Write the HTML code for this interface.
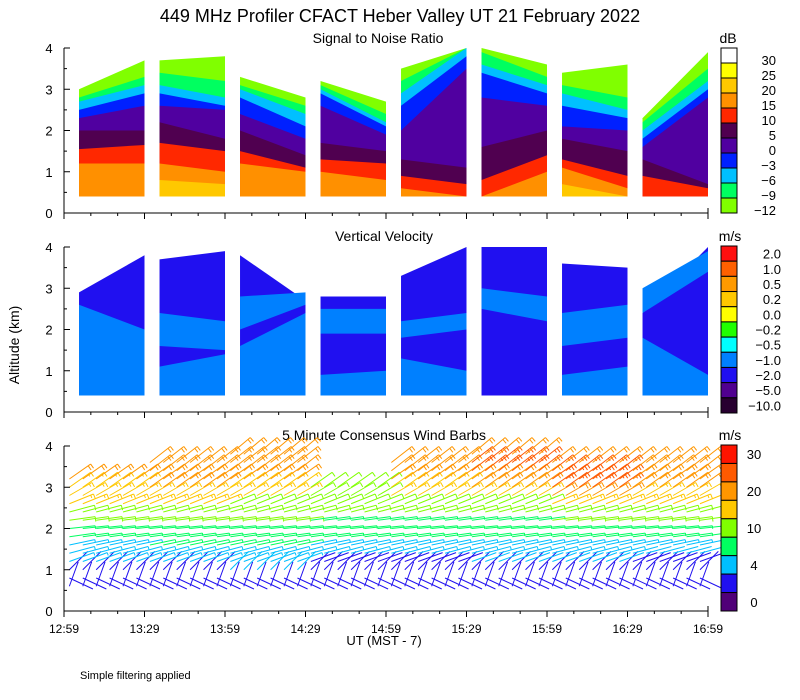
<!DOCTYPE html>
<html><head><meta charset="utf-8">
<style>
html,body{margin:0;padding:0;background:#fff;}
svg{display:block;font-family:"Liberation Sans",sans-serif;}
</style></head>
<body>
<svg id="chart" width="800" height="700" viewBox="0 0 800 700" xmlns="http://www.w3.org/2000/svg">
<text x="400" y="22" font-size="18" text-anchor="middle" fill="#000">449 MHz Profiler CFACT Heber Valley UT 21 February 2022</text>
<text x="378" y="43" font-size="14" text-anchor="middle">Signal to Noise Ratio</text>
<text x="384" y="241" font-size="14" text-anchor="middle">Vertical Velocity</text>
<text x="384" y="440" font-size="14" text-anchor="middle">5 Minute Consensus Wind Barbs</text>
<text x="728" y="43" font-size="14" text-anchor="middle">dB</text>
<text x="730" y="241" font-size="14" text-anchor="middle">m/s</text>
<text x="730" y="440" font-size="14" text-anchor="middle">m/s</text>
<text transform="translate(19,345) rotate(-90)" font-size="14" text-anchor="middle">Altitude (km)</text>
<text x="384" y="645" font-size="13" text-anchor="middle">UT  (MST - 7)</text>
<text x="80" y="679" font-size="11">Simple filtering applied</text>
<g id="g"></g>
</svg>
<script>
// ---- data ----
const timeLabels = ["12:59","13:29","13:59","14:29","14:59","15:29","15:59","16:29","16:59"];
const snrLabels = ["30","25","20","15","10","5","0","\u22123","\u22126","\u22129","\u221212"];
const vvLabels = ["2.0","1.0","0.5","0.2","0.0","\u22120.2","\u22120.5","\u22121.0","\u22122.0","\u22125.0","\u221210.0"];
const windLabels = ["30","","20","","10","","4","","0"];
const blockStarts = [5.6,35.6,65.6,95.6,125.6,155.6,185.6,215.6]; // minutes after 12:59
const blockEnds = [30,60,90,120,150,180,210,240];
// SNR bands per block: [colorIndex, topAtStart km, topAtEnd km], bottom to top
const snrB1 = [[3,1.2,1.2],[4,1.55,1.65],[5,2.0,2.0],[6,2.3,2.6],[7,2.5,2.9],[8,2.7,3.1],[9,2.8,3.3],[10,3.0,3.7]];
const snrB2 = [[2,0.8,0.7],[3,1.2,1.0],[4,1.7,1.5],[5,2.2,1.8],[6,2.6,2.5],[7,2.9,2.6],[8,3.1,2.8],[9,3.4,3.2],[10,3.7,3.8]];
const snrB3 = [[3,1.2,1.0],[4,1.5,1.1],[5,2.0,1.4],[6,2.4,1.8],[7,2.8,2.1],[8,3.0,2.4],[9,3.1,2.6],[10,3.3,2.8]];
const snrB4 = [[3,1.0,0.8],[4,1.3,1.2],[5,1.7,1.5],[6,2.6,1.9],[7,2.9,2.1],[8,3.0,2.2],[9,3.1,2.4],[10,3.2,2.7]];
const snrB5 = [[3,0.6,0.4],[4,0.9,0.7],[5,1.3,1.1],[6,2.0,3.5],[7,2.6,3.8],[8,2.9,4.0],[9,3.2,4.0],[10,3.5,4.0]];
const snrB6 = [[3,0.4,1.0],[4,0.8,1.4],[5,1.6,2.0],[6,2.8,2.6],[7,3.4,2.9],[8,3.6,3.1],[9,3.9,3.3],[10,4.0,3.6]];
const snrB7 = [[2,0.7,0.4],[3,1.1,0.6],[4,1.3,0.9],[5,1.8,1.5],[6,2.1,2.0],[7,2.6,2.3],[8,2.9,2.5],[9,3.1,2.8],[10,3.4,3.6]];
const snrB8 = [[4,0.9,0.6],[5,1.3,0.7],[6,1.6,2.8],[7,1.8,3.0],[8,2.0,3.2],[9,2.2,3.5],[10,2.3,3.9]];
const snrBlocks = [snrB1,snrB2,snrB3,snrB4,snrB5,snrB6,snrB7,snrB8];
// Vertical velocity: data tops [start,end] and lighter-blue patches [loS,hiS,loE,hiE]
const vvTops = [[2.9,3.8],[3.7,3.9],[3.8,2.7],[2.8,2.8],[3.3,4.0],[4.0,4.0],[3.6,3.5],[2.4,4.0]];
const vvPatches = [
  [[0.4,2.6,0.4,2.0]],
  [[0.4,1.1,0.4,1.4],[1.6,2.4,1.5,2.2]],
  [[0.4,1.6,0.4,2.4],[2.0,2.8,2.6,2.9]],
  [[0.4,0.9,0.4,1.0],[1.9,2.5,1.9,2.5]],
  [[0.4,1.3,0.4,1.0],[1.8,2.2,2.0,2.4]],
  [[2.5,3.0,2.2,2.8]],
  [[0.4,0.9,0.4,1.1],[1.6,2.4,1.8,2.6]],
  [[0.4,1.8,0.4,0.9],[2.4,3.0,3.4,3.9]]
];
// Wind barbs
const windHeights = [0.6,0.8,1.0,1.2,1.4,1.6,1.8,2.0,2.2,2.4,2.6,2.8,3.0,3.2,3.4,3.6,3.8,4.0];
const windAngles = [70,-25,45,20,15,12,8,6,8,15,22,30,35,35,38,38,40,40];
const windB1 = [3,2,3,5,6,6,7,8,10,12,16,18,19,20,null,null,null,null];
const windB2 = [2,3,3,5,6,7,8,9,11,13,16,18,20,21,22,21,null,null];
const windB3 = [2,3,4,5,6,7,8,9,10,12,13,15,18,20,21,22,20,null];
const windB4 = [2,2,3,3,5,6,7,8,9,10,11,13,14,null,null,null,null,null];
const windB5 = [2,2,3,3,5,6,7,8,9,11,13,16,18,20,21,22,null,null];
const windB6 = [2,3,3,4,5,6,7,8,9,11,14,18,21,24,26,25,22,null];
const windB7 = [3,2,3,4,5,6,7,8,10,12,16,20,25,28,27,24,null,null];
const windB8 = [3,3,2,3,4,5,7,9,12,14,16,18,20,22,21,20,null,null];
const windBlocks = [windB1,windB2,windB3,windB4,windB5,windB6,windB7,windB8];
const windColumnOffsets = [2,7,12,17,22,27];

// ---- styles ----
const snrColors = ["#ffffff","#ffff00","#ffc800","#ff9000","#ff2800","#500050","#5000a0","#0020ff","#00c0ff","#00ff60","#80ff00"];
const vvColors = ["#ff1010","#ff6000","#ff9a00","#ffc800","#ffff00","#20ff00","#00ffff","#0080ff","#2010f0","#500090","#280030"];
const windColors = ["#ff1400","#ff5a00","#ff9600","#ffc800","#80ff00","#00ff60","#00c0ff","#2010f0","#500078"];
const windBins = [30,25,20,15,10,7,4,2,0];

const NS="http://www.w3.org/2000/svg";
const g=document.getElementById('g');
function mk(tag,attrs,parent){const e=document.createElementNS(NS,tag);for(const k in attrs)e.setAttribute(k,attrs[k]);(parent||g).appendChild(e);return e;}
const X0=64,X1=708;
function xS(m){return X0+m*(X1-X0)/240;}
const panelY0=[213,412,611];
function yS(p,km){return panelY0[p]-km*41.25;}

// SNR panel
snrBlocks.forEach((bands,bi)=>{
  const xa=xS(blockStarts[bi]), xb=xS(blockEnds[bi]);
  for(let i=bands.length-1;i>=0;i--){
    const b=bands[i];
    const p=mk('polygon',{points:`${xa},${yS(0,0.4)} ${xa},${yS(0,b[1])} ${xb},${yS(0,b[2])} ${xb},${yS(0,0.4)}`,fill:snrColors[b[0]]});
    
    
  }
});
// VV panel
vvTops.forEach((t,bi)=>{
  const xa=xS(blockStarts[bi]), xb=xS(blockEnds[bi]);
  const p=mk('polygon',{points:`${xa},${yS(1,0.4)} ${xa},${yS(1,t[0])} ${xb},${yS(1,t[1])} ${xb},${yS(1,0.4)}`,fill:vvColors[8]});
  
  
  vvPatches[bi].forEach(q=>{
    const r=mk('polygon',{points:`${xa},${yS(1,q[0])} ${xa},${yS(1,q[1])} ${xb},${yS(1,q[3])} ${xb},${yS(1,q[2])}`,fill:vvColors[7]});
    
    
  });
});
// Wind barbs
function windColor(s){for(let i=0;i<windBins.length;i++){if(s>=windBins[i])return windColors[i];}return windColors[8];}
windBlocks.forEach((sp,bi)=>{
  windColumnOffsets.forEach(off=>{
    const x=xS(bi*30+off);
    sp.forEach((s,li)=>{
      if(s===null)return;
      const y=yS(2,windHeights[li]);
      const a=windAngles[li]*Math.PI/180, L=26;
      const ex=x+L*Math.cos(a), ey=y-L*Math.sin(a);
      const col=windColor(s);
      const bg=mk('g',{stroke:col,'stroke-width':1,fill:'none'});
      
      
      mk('line',{x1:x,y1:y,x2:ex,y2:ey},bg);
      let n=Math.floor(s/10), half=(s%10)>=5;
      const px=Math.sin(a), py=Math.cos(a);
      for(let k=0;k<n&&k<3;k++){
        const bx=ex-k*3*Math.cos(a), by=ey+k*3*Math.sin(a);
        mk('line',{x1:bx,y1:by,x2:bx+5*px,y2:by+5*py},bg);
      }
      if(half){const k=Math.min(n,3);const bx=ex-k*3*Math.cos(a), by=ey+k*3*Math.sin(a);mk('line',{x1:bx,y1:by,x2:bx+3*px,y2:by+3*py},bg);}
    });
  });
});

// Axes
for(let p=0;p<3;p++){
  const ax=mk('g',{stroke:'#000','stroke-width':1,fill:'none'});
  
  
  mk('line',{x1:X0,y1:yS(p,4),x2:X0,y2:yS(p,0)},ax);
  mk('line',{x1:X0,y1:yS(p,0),x2:X1,y2:yS(p,0)},ax);
  mk('line',{x1:X1,y1:yS(p,0),x2:X1,y2:yS(p,0)-5},ax);
  for(let k=0;k<=8;k++){const km=k*0.5;const len=(k%2==0)?6:3;mk('line',{x1:X0,y1:yS(p,km),x2:X0+len,y2:yS(p,km)},ax);}
  for(let m=0;m<=240;m+=10){const len=(m%30==0)?6:3;mk('line',{x1:xS(m),y1:yS(p,0),x2:xS(m),y2:yS(p,0)+len},ax);}
  for(let k=0;k<=4;k++){
    const t=mk('text',{x:49,y:yS(p,k)+5,'font-size':13,'text-anchor':'middle',fill:'#000'});
    t.textContent=String(k);
    
    
  }
}
timeLabels.forEach((l,i)=>{
  const t=mk('text',{x:xS(i*30),y:633,'font-size':12,'text-anchor':'middle',fill:'#000'});
  t.textContent=l;
  
  
});

// Colorbars
function colorbar(colors,labels,top,bottom,labelX,anchor,mode,name){
  const h=(bottom-top)/colors.length;
  colors.forEach((c,i)=>{
    const r=mk('rect',{x:721,y:top+i*h,width:16,height:h,fill:c,stroke:'#000','stroke-width':1});
    
    
  });
  labels.forEach((l,i)=>{
    if(!l)return;
    const yy = mode==='edge' ? top+(i+1)*h-3+5 : top+(i+0.5)*h+5;
    const t=mk('text',{x:labelX,y:yy,'font-size':13,'text-anchor':anchor,fill:'#000'});
    t.textContent=l;
    
    
  });
}
colorbar(snrColors,snrLabels,48,213,776,'end','edge','snr-colorbar');
colorbar(vvColors,vvLabels,246,413,781,'end','center','vv-colorbar');
colorbar(windColors,windLabels,445,611,754,'middle','center','wind-colorbar');
</script>
</body></html>
